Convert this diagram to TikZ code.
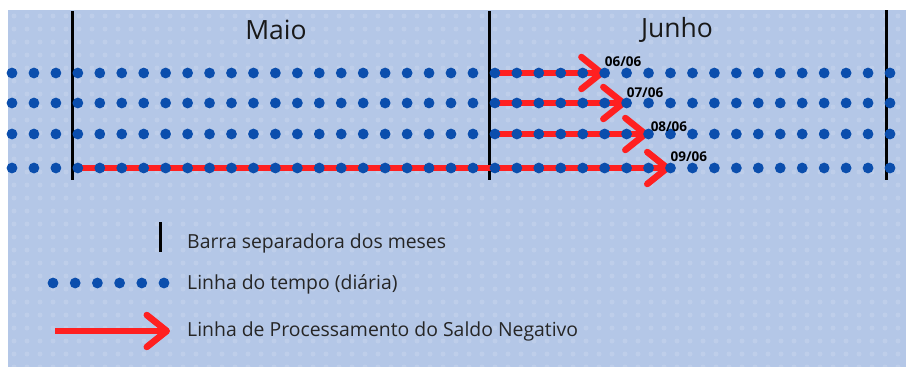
\documentclass[tikz,border=0pt]{standalone}
\usepackage{fontspec}
\setmainfont{Open Sans}
\usetikzlibrary{arrows.meta, calc, positioning}

\definecolor{fundo}{HTML}{B4C7E7}
\definecolor{pontoazul}{HTML}{0B4EAD}
\definecolor{vermelho}{HTML}{FF2020}

\tikzset{
  dia/.style={fill=pontoazul},
  separador/.style={line width=3pt, black},
  processo/.style={vermelho, line width=6pt, -{Straight Barb[length=20pt, width=32pt, line width=6.5pt, round]}},
  datalbl/.style={font=\fontsize{13.5}{13.5}\selectfont\bfseries, anchor=west, inner sep=0pt},
  mes/.style={font=\fontsize{26.5}{26.5}\selectfont, text=black!90},
  legenda/.style={font=\fontsize{19.4}{19.4}\selectfont, anchor=west, inner sep=0pt, text=black!85}
}

\begin{document}
\begin{tikzpicture}[x=1pt, y=-1pt]
  \useasboundingbox (0,0) rectangle (906,367);
  \fill[white] (0,0) rectangle (906,367);
  \fill[fundo] (8,10) rectangle (906,367);
  % textura do fundo
  \foreach \tx in {0,...,68}
    \foreach \ty in {0,...,27}
      \fill[white, opacity=0.14] ({14+13*\tx},{16+13*\ty}) circle (2.5pt);

  % pontos das linhas do tempo
  \foreach \r/\yy in {1/73, 2/103, 3/134, 4/168}
    \foreach \i in {0,...,40}
      \coordinate (d\r-\i) at ({12+21.95*\i}, \yy);

  \draw[separador] (72,11) -- (72,180);
  \draw[separador] (489,11) -- (489,180);
  \draw[separador] (886,10) -- (886,180);

  \draw[processo] (d1-22) -- (d1-27);
  \draw[processo] (d2-22) -- (d2-28);
  \draw[processo] (d3-22) -- (d3-29);
  \draw[processo] (d4-3) -- (d4-30);

  \foreach \r in {1,...,4}
    \foreach \i in {0,...,40}
      \fill[dia] (d\r-\i) circle (5.4pt);

  \node[datalbl] (l0606) at ($(d1-27)+(0,-11)$) {06/06};
  \node[datalbl] (l0706) at ($(d2-28)+(0,-10)$) {07/06};
  \node[datalbl] (l0806) at ($(d3-29)+(2,-7)$) {08/06};
  \node[datalbl] (l0906) at ($(d4-30)+(0,-11)$) {09/06};

  \node[mes] (maio) at (276,30) {Maio};
  \node[mes] (junho) at (677,30) {Junho};

  % legenda
  \draw[separador] (160,222) -- (160,252);
  \node[legenda] (lgbarra) at (187,243) {Barra separadora dos meses};
  \foreach \i in {0,...,5}
    \fill[dia] ({53+22.2*\i},283) circle (5.4pt);
  \node[legenda] (lgtempo) at (187,284) {Linha do tempo (diária)};
  \coordinate (lgini) at (55,331);
  \coordinate (lgfim) at (170,331);
  \draw[processo] (lgini) -- (lgfim);
  \node[legenda] (lgproc) at (187,331) {Linha de Processamento do Saldo Negativo};
\end{tikzpicture}
\end{document}
